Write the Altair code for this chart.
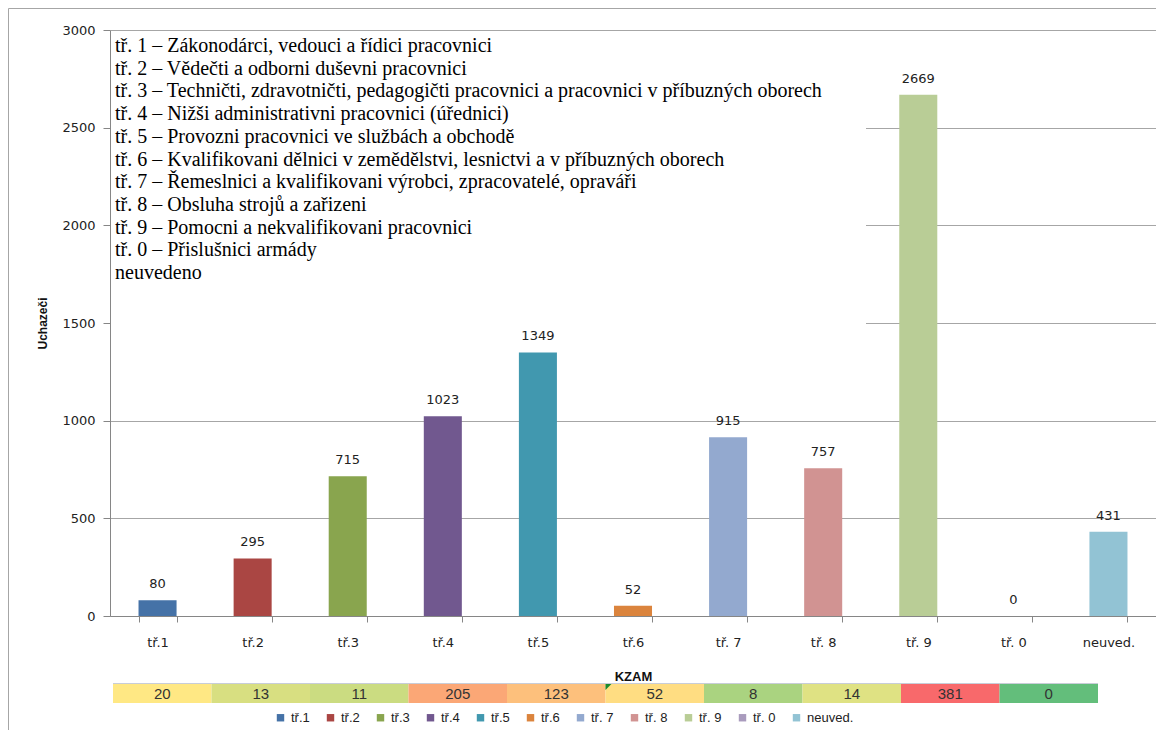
import altair as alt
import pandas as pd

# ---- data ----
categories = ["tř.1", "tř.2", "tř.3", "tř.4", "tř.5", "tř.6", "tř. 7", "tř. 8", "tř. 9", "tř. 0", "neuved."]
applicants = [80, 295, 715, 1023, 1349, 52, 915, 757, 2669, 0, 431]

table_labels = ["tř.1", "tř.2", "tř.3", "tř.4", "tř.5", "tř.6", "tř. 7", "tř. 8", "tř. 9", "tř. 0"]
table_values = [20, 13, 11, 205, 123, 52, 8, 14, 381, 0]
flagged_cell = "tř.6"

legend_lines = [
    "tř. 1 – Zákonodárci, vedouci a řídici pracovnici",
    "tř. 2 – Vědečti a odborni duševni pracovnici",
    "tř. 3 – Techničti, zdravotničti, pedagogičti pracovnici a pracovnici v příbuzných oborech",
    "tř. 4 – Nižši administrativni pracovnici (úřednici)",
    "tř. 5 – Provozni pracovnici ve službách a obchodě",
    "tř. 6 – Kvalifikovani dělnici v zemědělstvi, lesnictvi a v příbuzných oborech",
    "tř. 7 – Řemeslnici a kvalifikovani výrobci, zpracovatelé, opraváři",
    "tř. 8 – Obsluha strojů a zařizeni",
    "tř. 9 – Pomocni a nekvalifikovani pracovnici",
    "tř. 0 – Přislušnici armády",
    "neuvedeno",
]

y_ticks = [0, 500, 1000, 1500, 2000, 2500, 3000]

# ---- styles ----
bar_colors = ["#4572A7", "#AA4643", "#89A54E", "#71588F", "#4198AF", "#DB843D",
              "#93A9CF", "#D19392", "#B9CD96", "#A99BBD", "#92C3D4"]
cell_colors = ["#FFE884", "#D8DF81", "#CBDC81", "#FBA776", "#FDC07C", "#FFDD82",
               "#AAD380", "#DFE283", "#F8696B", "#63BE7B"]

W, H = 1046, 586

df = pd.DataFrame({"kat": categories, "val": applicants})
dt = pd.DataFrame({"tkat": table_labels, "tval": table_values})
dbox = pd.DataFrame({"t": ["\n".join(legend_lines)]})
done = pd.DataFrame({"a": [0]})

xband = alt.Scale(paddingInner=0.6, paddingOuter=0.3)
yscale = alt.Scale(domain=[0, 3000])

bars = alt.Chart(df).mark_bar().encode(
    x=alt.X("kat:N", sort=categories, scale=xband,
            axis=alt.Axis(title="KZAM", tickBand="extent", tickSize=6, labelPadding=14,
                          labelAngle=0, labelFont="DejaVu Sans", labelFontSize=13,
                          labelColor="#222222", domainColor="#868686", tickColor="#868686",
                          titleFont="Liberation Sans", titleFontSize=13, titleFontWeight="bold",
                          titleColor="#111111", titleX=W / 2, titleY=60,
                          titleBaseline="middle", titleAlign="center", grid=False)),
    y=alt.Y("val:Q", scale=yscale,
            axis=alt.Axis(title="Uchazeči", values=y_ticks, format="d", tickSize=7, labelPadding=8,
                          labelFont="DejaVu Sans", labelFontSize=13, labelColor="#222222",
                          domainColor="#868686", tickColor="#868686",
                          grid=True, gridColor="#A6A6A6",
                          titleFont="Liberation Sans", titleFontSize=12, titleFontWeight="bold",
                          titleColor="#111111", titleX=-68, titleY=H / 2, titleAngle=270,
                          titleBaseline="middle", titleAlign="center")),
    color=alt.Color("kat:N", sort=categories,
                    scale=alt.Scale(domain=categories, range=bar_colors),
                    legend=alt.Legend(title=None, orient="none", legendX=164, legendY=681,
                                      direction="horizontal", columns=11,
                                      symbolType="square", symbolSize=55, symbolStrokeWidth=0,
                                      labelFont="Liberation Sans", labelFontSize=13,
                                      labelColor="#222222", columnPadding=14, labelOffset=4)),
)

labels = alt.Chart(df).mark_text(dy=-16, baseline="middle", font="DejaVu Sans",
                                 fontSize=13, color="#222222").encode(
    x=alt.X("kat:N", sort=categories, scale=xband, axis=None),
    y=alt.Y("val:Q", scale=yscale),
    text="val:Q",
)

whitebox = alt.Chart(done).mark_rect(fill="white").encode(
    x=alt.value(1), x2=alt.value(756), y=alt.value(1), y2=alt.value(300)
)

textbox = alt.Chart(dbox).mark_text(align="left", baseline="top", lineBreak="\n",
                                    lineHeight=22.7, font="Liberation Serif",
                                    fontSize=20, color="black").encode(
    x=alt.value(5), y=alt.value(6), text="t:N"
)

tscale = alt.Scale(range=[3, 988], paddingInner=0, paddingOuter=0)

table_rect = alt.Chart(dt).mark_rect().encode(
    x=alt.X("tkat:N", sort=table_labels, scale=tscale, axis=None),
    y=alt.value(654), y2=alt.value(673),
    color=alt.Color("tkat:N", sort=table_labels,
                    scale=alt.Scale(domain=table_labels, range=cell_colors), legend=None),
)

table_text = alt.Chart(dt).mark_text(baseline="middle", font="Liberation Sans",
                                     fontSize=15, color="#333333").encode(
    x=alt.X("tkat:N", sort=table_labels, scale=tscale, axis=None),
    y=alt.value(664),
    text="tval:Q",
)

table_flag = alt.Chart(dt).transform_filter(
    alt.datum.tkat == flagged_cell
).mark_point(shape="M0,0L1,0L0,1Z", filled=True, color="#1A8A2E", opacity=1,
             size=140, strokeWidth=0).encode(
    x=alt.X("tkat:N", sort=table_labels, scale=tscale, axis=None, bandPosition=0),
    y=alt.value(654),
)

table_line = alt.Chart(done).mark_rule(color="#C8CDD8").encode(
    x=alt.value(3), x2=alt.value(988), y=alt.value(653.5)
)

frame = alt.Chart(done).mark_rect(fillOpacity=0, stroke="#A6A6A6", strokeWidth=1).encode(
    x=alt.value(-101.5), x2=alt.value(1200), y=alt.value(-21.5), y2=alt.value(900)
)

chart = alt.layer(
    bars, whitebox, textbox, labels, table_rect, table_line, table_text, table_flag, frame
).resolve_scale(
    x="independent", color="independent"
).properties(
    width=W, height=H,
    autosize=alt.AutoSizeParams(type="none"),
    padding={"left": 102, "top": 22, "right": 0, "bottom": 114},
).configure_view(stroke=None)

chart.save("out.html", embed_options={"renderer": "svg", "actions": False})
